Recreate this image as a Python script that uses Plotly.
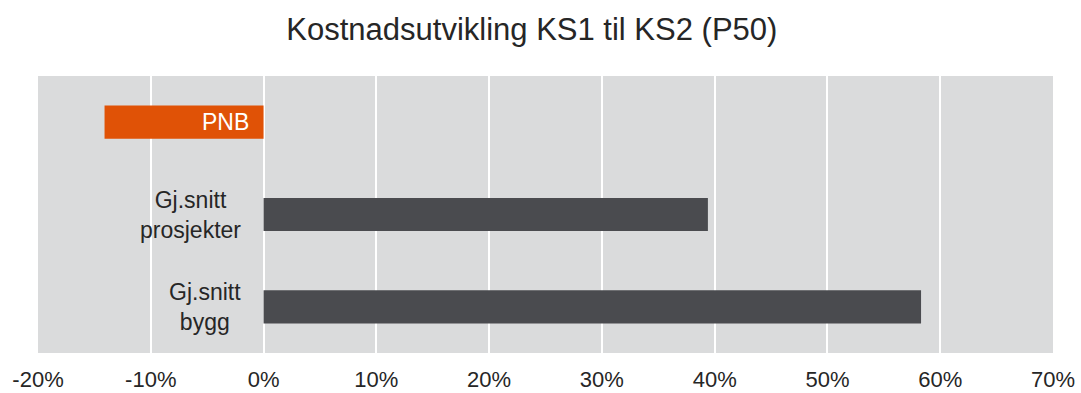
import plotly.graph_objects as go

categories = ["PNB", "Gj.snitt<br>prosjekter", "Gj.snitt<br>bygg"]
values = [-14.1, 39.4, 58.3]
colors = ["#e05206", "#4a4b4f", "#4a4b4f"]
label_colors = ["#ffffff", "#262626", "#262626"]
label_shift = [-13, -21, -21]
tick_vals = [-20, -10, 0, 10, 20, 30, 40, 50, 60, 70]
tick_text = [f"{v}%" for v in tick_vals]

FONT = "Liberation Sans, Arial"

fig = go.Figure()
fig.add_trace(go.Bar(
    y=categories, x=values, orientation="h",
    marker=dict(color=colors, line=dict(width=0)),
    width=0.36, hoverinfo="skip",
))

for cat, col, sh in zip(categories, label_colors, label_shift):
    fig.add_annotation(x=0, y=cat, xref="x", yref="y", text=cat,
                       showarrow=False, xanchor="right", xshift=sh,
                       align="center",
                       font=dict(family=FONT, size=23, color=col))

fig.update_layout(
    width=1081, height=393,
    margin=dict(l=38, r=28, t=76, b=40, autoexpand=False),
    paper_bgcolor="white", plot_bgcolor="#dadbdc",
    showlegend=False,
    title=dict(text="Kostnadsutvikling KS1 til KS2 (P50)", x=0.492, xanchor="center",
               y=1 - 29/393, yanchor="middle",
               font=dict(family=FONT, size=31, color="#262626")),
    xaxis=dict(range=[-20, 70], tickvals=tick_vals, ticktext=tick_text,
               showgrid=True, gridcolor="white", gridwidth=2, zeroline=False,
               showline=False, ticks="", ticklabelstandoff=11, automargin=False,
               tickfont=dict(family=FONT, size=22, color="#262626")),
    yaxis=dict(autorange="reversed", showticklabels=False, showgrid=False,
               zeroline=False, showline=False, automargin=False),
)

fig.write_html("out.html")
